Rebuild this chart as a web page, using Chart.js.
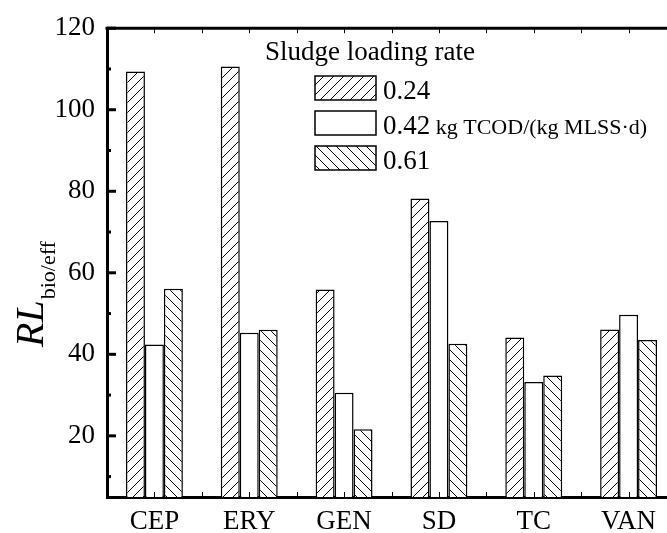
<!DOCTYPE html>
<html lang="en">
<head>
    <meta charset="UTF-8">
    <title>RL bio/eff by sludge loading rate</title>
    <script src="https://cdn.jsdelivr.net/npm/chart.js"></script>
    <style>
        html, body { margin: 0; padding: 0; background: #fff; overflow: hidden; }
        .chart-container { width: 680px; height: 533px; }
    </style>
</head>
<body>
<div class="chart-container">
    <canvas id="myChart" width="680" height="533"></canvas>
</div>
<script>
    const categories = ['CEP', 'ERY', 'GEN', 'SD', 'TC', 'VAN'];
    const rate024 = [109.4, 110.6, 55.9, 78.2, 44.1, 46.1];
    const rate042 = [42.4, 45.3, 30.6, 72.7, 33.2, 49.7];
    const rate061 = [56.1, 46.0, 21.6, 42.6, 34.8, 43.5];
    const seriesLabels = ['0.24', '0.42', '0.61'];
    const unitLabel = ' kg TCOD/(kg MLSS\u00b7d)';
    const legendTitle = 'Sludge loading rate';
    const yTickValues = [10, 20, 30, 40, 50, 60, 70, 80, 90, 100, 110, 120];

    const SERIF = '"Liberation Serif", "Times New Roman", serif';

    // hatch fills: '/' , none, '\'
    function hatch(dir) {
        const s = 10;
        const c = document.createElement('canvas');
        c.width = s; c.height = s;
        const g = c.getContext('2d');
        g.fillStyle = '#fff';
        g.fillRect(0, 0, s, s);
        g.strokeStyle = '#000';
        g.lineWidth = 1;
        g.beginPath();
        if (dir === '/') {
            g.moveTo(-1, s + 1); g.lineTo(s + 1, -1);
            g.moveTo(-1, 1); g.lineTo(1, -1);
            g.moveTo(s - 1, s + 1); g.lineTo(s + 1, s - 1);
        } else {
            g.moveTo(-1, -1); g.lineTo(s + 1, s + 1);
            g.moveTo(s - 1, -1); g.lineTo(s + 1, 1);
            g.moveTo(-1, s - 1); g.lineTo(1, s + 1);
        }
        g.stroke();
        return g.createPattern(c, 'repeat');
    }

    const fills = [hatch('/'), '#fff', hatch('\\')];

    const decorPlugin = {
        id: 'decor',
        afterDraw(chart) {
            const ctx = chart.ctx;
            const area = chart.chartArea;
            const x = chart.scales.x;
            const y = chart.scales.y;
            ctx.save();
            ctx.strokeStyle = '#000';

            // top frame line
            ctx.lineWidth = 3;
            ctx.beginPath();
            ctx.moveTo(area.left - 1.5, area.top);
            ctx.lineTo(area.right, area.top);
            ctx.stroke();

            // y ticks pointing inward
            yTickValues.forEach(v => {
                const py = y.getPixelForValue(v);
                const len = v % 20 === 0 ? 9 : 4;
                ctx.beginPath();
                ctx.moveTo(area.left, py);
                ctx.lineTo(area.left + len, py);
                ctx.stroke();
            });

            // x ticks at centers and boundaries (small, inward), also on the top line
            ctx.lineWidth = 1;
            for (let i = -0.5; i <= categories.length - 0.5; i += 0.5) {
                const px = Math.round(x.getPixelForValue(0) + i * (x.getPixelForValue(1) - x.getPixelForValue(0))) + 0.5;
                ctx.beginPath();
                ctx.moveTo(px, area.bottom);
                ctx.lineTo(px, area.bottom - 5);
                ctx.moveTo(px, area.top);
                ctx.lineTo(px, area.top + 5);
                ctx.stroke();
            }

            // y axis title: RL with subscript bio/eff
            ctx.fillStyle = '#000';
            ctx.translate(43, 347);
            ctx.rotate(-Math.PI / 2);
            ctx.textBaseline = 'alphabetic';
            ctx.textAlign = 'left';
            ctx.font = 'italic 40px ' + SERIF;
            ctx.fillText('RL', 0, 0);
            const w = ctx.measureText('RL').width;
            ctx.font = '22px ' + SERIF;
            ctx.fillText('bio/eff', w + 1, 12);
            ctx.restore();

            // legend
            ctx.save();
            ctx.fillStyle = '#000';
            ctx.textBaseline = 'alphabetic';
            ctx.textAlign = 'left';
            ctx.font = '27px ' + SERIF;
            ctx.fillText(legendTitle, 265, 60);
            seriesLabels.forEach((lab, i) => {
                const top = 76 + i * 35;
                ctx.fillStyle = fills[i];
                ctx.fillRect(315, top, 61, 24);
                ctx.strokeStyle = '#000';
                ctx.lineWidth = 1.5;
                ctx.strokeRect(315, top, 61, 24);
                ctx.fillStyle = '#000';
                ctx.font = '27px ' + SERIF;
                ctx.fillText(lab, 383, top + 23);
                if (i === 1) {
                    const lw = ctx.measureText(lab).width;
                    ctx.font = '22px ' + SERIF;
                    ctx.fillText(unitLabel, 383 + lw, top + 23);
                }
            });
            ctx.restore();
        }
    };

    const ctx = document.getElementById('myChart').getContext('2d');
    new Chart(ctx, {
        type: 'bar',
        data: {
            labels: categories,
            datasets: [rate024, rate042, rate061].map((d, i) => ({
                label: seriesLabels[i],
                data: d,
                backgroundColor: fills[i],
                borderColor: '#000',
                borderWidth: 1.5,
                borderSkipped: 'bottom',
                categoryPercentage: 0.6,
                barPercentage: 1.0
            }))
        },
        options: {
            responsive: false,
            animation: false,
            devicePixelRatio: 1,
            layout: { padding: { top: 26, right: 4, left: 0, bottom: 0 } },
            plugins: {
                legend: { display: false },
                tooltip: { enabled: false }
            },
            scales: {
                x: {
                    grid: { display: false, drawTicks: false },
                    border: { display: true, color: '#000', width: 3 },
                    ticks: {
                        color: '#000',
                        font: { family: SERIF, size: 27 },
                        padding: 9
                    },
                    afterFit(scale) { scale.height = 36; }
                },
                y: {
                    min: 5,
                    max: 120,
                    grid: { display: false, drawTicks: false },
                    border: { display: true, color: '#000', width: 3 },
                    afterBuildTicks(scale) {
                        scale.ticks = yTickValues.map(v => ({ value: v }));
                    },
                    ticks: {
                        color: '#000',
                        font: { family: SERIF, size: 27 },
                        padding: 12,
                        autoSkip: false,
                        callback: v => (v % 20 === 0 ? String(v) : '')
                    },
                    afterFit(scale) { scale.width = 107; }
                }
            }
        },
        plugins: [decorPlugin]
    });
</script>
</body>
</html>
